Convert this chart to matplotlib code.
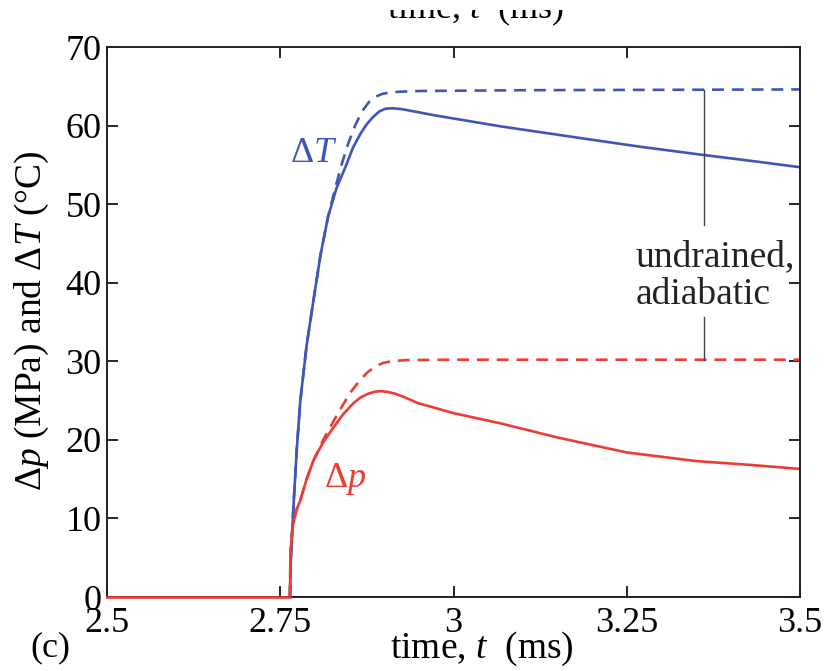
import matplotlib
matplotlib.use("Agg")
import matplotlib.pyplot as plt
from matplotlib.patches import Rectangle

plt.rcParams['font.family'] = ['Liberation Serif', 'DejaVu Serif']
plt.rcParams['mathtext.fontset'] = 'custom'
plt.rcParams['mathtext.rm'] = 'Liberation Serif'
plt.rcParams['mathtext.it'] = 'Liberation Serif:italic'

# --- data ---
t_T_solid = [2.764, 2.765, 2.767, 2.770, 2.774, 2.779, 2.788, 2.798, 2.808, 2.819, 2.831,
             2.844, 2.855, 2.866, 2.875, 2.884, 2.893, 2.902, 2.912, 2.925, 2.94, 2.97, 3.0,
             3.068, 3.184, 3.27, 3.357, 3.43, 3.5]
T_solid = [0, 4, 8, 13, 19, 25, 32, 37.8, 43.5, 48.4, 52.0,
           54.7, 57.2, 59.0, 60.2, 61.1, 61.8, 62.15, 62.2, 62.1, 61.85, 61.35, 60.9,
           59.9, 58.4, 57.3, 56.3, 55.5, 54.7]

t_T_dash = [2.764, 2.765, 2.767, 2.770, 2.774, 2.779, 2.788, 2.798, 2.808, 2.819, 2.829,
            2.838, 2.848, 2.858, 2.868, 2.878, 2.888, 2.898, 2.908, 2.92, 2.95, 3.1, 3.5]
T_dash = [0, 4, 8, 13, 19, 25, 32, 37.8, 43.5, 48.4, 51.9,
          54.9, 57.7, 60.0, 61.8, 63.0, 63.7, 64.05, 64.2, 64.3, 64.4, 64.5, 64.6]

t_p_solid = [2.764, 2.7645, 2.765, 2.768, 2.773, 2.779, 2.788, 2.798, 2.812, 2.827, 2.841,
             2.856, 2.866, 2.875, 2.885, 2.895, 2.905, 2.915, 2.93, 2.948, 3.0,
             3.068, 3.15, 3.25, 3.35, 3.43, 3.5]
p_solid = [0, 4, 6, 9, 11, 12.3, 15.0, 17.4, 19.7, 21.6, 23.3,
           24.7, 25.4, 25.8, 26.1, 26.2, 26.1, 25.9, 25.4, 24.7, 23.4,
           22.1, 20.3, 18.4, 17.3, 16.8, 16.3]

t_p_dash = [2.764, 2.7645, 2.765, 2.768, 2.773, 2.779, 2.788, 2.798, 2.812, 2.827, 2.840,
            2.851, 2.864, 2.876, 2.888, 2.899, 2.91, 2.93, 3.0, 3.5]
p_dash = [0, 4, 6, 9, 11, 12.3, 15.0, 17.4, 20.0, 22.4, 24.4,
          26.0, 27.5, 28.6, 29.4, 29.8, 30.0, 30.15, 30.2, 30.2]

t_zero = [2.5, 2.764]
v_zero = [0, 0]

ann_t = 3.361
ann_upper = [64.5, 47.3]
ann_lower = [35.6, 30.2]

xticks = [2.5, 2.75, 3.0, 3.25, 3.5]
xticklabels = ['2.5', '2.75', '3', '3.25', '3.5']
yticks = [0, 10, 20, 30, 40, 50, 60, 70]
yticklabels = ['0', '10', '20', '30', '40', '50', '60', '70']

blue = '#3f55b8'
red = '#ee3b34'

W, H = 828, 671
fig = plt.figure(figsize=(W / 100, H / 100), dpi=100)
ax = fig.add_axes([107/W, 1 - 597/H, 693/W, 550/H])

lw = 1.9
ax.plot(t_T_dash, T_dash, color=blue, lw=lw, dashes=(4.5, 3.0))
ax.plot(t_p_dash, p_dash, color=red, lw=lw, dashes=(4.5, 3.0))
ax.plot(t_T_solid, T_solid, color=blue, lw=lw)
ax.plot(t_p_solid, p_solid, color=red, lw=lw)
ax.plot(t_zero, v_zero, color=red, lw=lw, clip_on=False, zorder=5)

ax.plot([ann_t, ann_t], ann_upper, color='#444444', lw=1.0)
ax.plot([ann_t, ann_t], ann_lower, color='#444444', lw=1.0)
ax.text(3.263, 40.9, 'undrained,\nadiabatic', fontsize=27, color='#222222',
        ha='left', va='center', linespacing=1.12)

ax.text(2.798, 56.5, r'$\Delta T$', fontsize=26, color=blue, ha='center', va='center')
ax.text(2.843, 15.0, r'$\Delta p$', fontsize=26, color=red, ha='center', va='center')

ax.set_xlim(2.5, 3.5)
ax.set_ylim(0, 70)
ax.set_xticks(xticks)
ax.set_xticklabels(xticklabels)
ax.set_yticks(yticks)
ax.set_yticklabels(yticklabels)
ax.tick_params(direction='in', length=8, width=1.2, top=True, right=True,
               labelsize=26)
ax.tick_params(axis='x', pad=7)
ax.tick_params(axis='y', pad=4)
for s in ax.spines.values():
    s.set_linewidth(1.4)
    s.set_color('#222222')

# axis labels placed as figure text to match the reference positions
fig.text(482/W, 1 - 658/H, r'time, $t$  (ms)', fontsize=27, ha='center', va='baseline')
fig.text(32/W, 1 - 321/H, r'$\Delta p$ (MPa) and $\Delta T$ ($\degree$C)', fontsize=27,
         rotation=90, ha='center', va='center')

# partially visible label from the panel above (clipped at the top)
fig.text(475/W, 1 - 18/H, r'time, $t$  (ms)', fontsize=26, ha='center', va='baseline')
fig.patches.append(Rectangle((0, 1 - 10/H), 1, 10/H, transform=fig.transFigure,
                             facecolor='white', edgecolor='none', zorder=10))

fig.text(50/W, 1 - 656/H, '(c)', fontsize=26, ha='center', va='baseline')

fig.savefig('out.png', dpi=100)
